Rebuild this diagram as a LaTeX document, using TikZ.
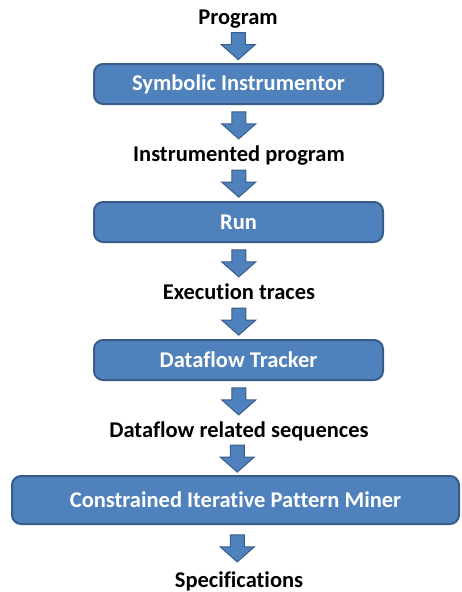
\documentclass[tikz,border=0pt]{standalone}
\usepackage{fontspec}
\setmainfont{Carlito}[Ligatures=NoCommon]
\usetikzlibrary{calc}
\definecolor{boxblue}{RGB}{79,129,189}
\definecolor{edgeblue}{RGB}{56,93,138}
\tikzset{
  stagebox/.style={draw=edgeblue,line width=2pt,fill=boxblue,rounded corners=9pt,
    minimum width=289pt,minimum height=40pt,inner sep=0pt,text=white,
    font=\bfseries\fontsize{22.5}{26}\selectfont},
  datalabel/.style={minimum height=20pt,inner sep=0pt,text height=15pt,text depth=5pt,
    font=\bfseries\fontsize{22.5}{26}\selectfont},
  fatarrow/.style={draw=edgeblue,line width=1pt,fill=boxblue,line join=miter}
}
\newcommand{\blockarrow}[2]{\coordinate (m) at ($(#1.south)!0.5!(#2.north)$);
  \draw[fatarrow] ($(m)+(-7,-13.5)$) -- ($(m)+(7,-13.5)$) -- ($(m)+(7,-1.5)$) -- ($(m)+(17,-1.5)$)
    -- ($(m)+(0,13.5)$) -- ($(m)+(-17,-1.5)$) -- ($(m)+(-7,-1.5)$) -- cycle;}

\begin{document}
\begin{tikzpicture}[x=1pt,y=-1pt]
		\useasboundingbox (0,0) rectangle (461,592);
		\node[datalabel] (prog) at (238,19) {Program};
		\node[stagebox] (instr) at (238.5,84) {Symbolic Instrumentor};
		\node[datalabel] (iprog) at (239,156) {Instrumented program};
		\node[stagebox] (run) at (238.5,222) {Run};
		\node[datalabel] (traces) at (239,294) {Execution traces};
		\node[stagebox] (tracker) at (238.5,360) {Dataflow Tracker};
		\node[datalabel] (seqs) at (239,432) {Dataflow related sequences};
		\node[stagebox,minimum width=447pt,minimum height=48pt] (miner) at (235.5,500) {Constrained Iterative Pattern Miner};
		\node[datalabel] (specs) at (239,582) {Specifications};
		\blockarrow{prog}{instr} \blockarrow{instr}{iprog}
		\blockarrow{iprog}{run} \blockarrow{run}{traces}
		\blockarrow{traces}{tracker} \blockarrow{tracker}{seqs}
		\blockarrow{seqs}{miner} \blockarrow{miner}{specs}
\end{tikzpicture}
\end{document}
